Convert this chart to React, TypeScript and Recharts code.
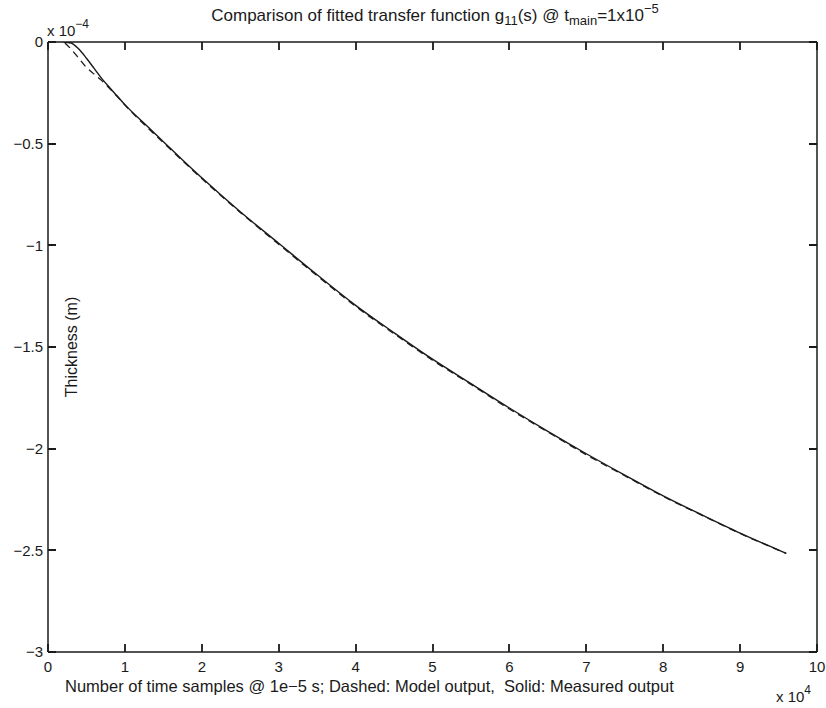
import React from "react";
import { LineChart, Line, XAxis, YAxis } from "recharts";

// x in units of 1e4 samples, thickness in units of 1e-4 m
const measuredX = [0.2, 0.3, 0.4, 0.5, 0.6, 0.7, 0.8, 0.9, 1.0, 1.25, 1.5, 1.75, 2.0, 2.5, 3.0, 3.5, 4.0, 4.5, 5.0, 5.5, 6.0, 6.5, 7.0, 7.5, 8.0, 8.5, 9.0, 9.6];
const measuredY = [0, -0.005, -0.035, -0.08, -0.13, -0.18, -0.224, -0.266, -0.308, -0.4, -0.49, -0.58, -0.668, -0.835, -0.99, -1.145, -1.295, -1.43, -1.56, -1.68, -1.8, -1.915, -2.025, -2.13, -2.232, -2.325, -2.415, -2.515];

const modelX = [0.22, 0.3, 0.4, 0.5, 0.6, 0.7, 0.8, 0.9, 1.0, 1.5, 2.0, 2.5, 3.0, 3.5, 4.0, 4.5, 5.0, 5.5, 6.0, 6.5, 7.0, 7.5, 8.0, 8.5, 9.0, 9.6];
const modelY = [-0.005, -0.035, -0.08, -0.125, -0.158, -0.19, -0.228, -0.268, -0.31, -0.495, -0.672, -0.838, -0.995, -1.15, -1.3, -1.435, -1.565, -1.684, -1.805, -1.918, -2.03, -2.133, -2.235, -2.327, -2.417, -2.515];

const xTicks = [0, 1, 2, 3, 4, 5, 6, 7, 8, 9, 10];
const yTicks = [-3, -2.5, -2, -1.5, -1, -0.5, 0];

const measured = measuredX.map((x, i) => ({ x, y: measuredY[i] }));
const model = modelX.map((x, i) => ({ x, y: modelY[i] }));

const FONT = "'Liberation Sans', Arial, Helvetica, sans-serif";
const INK = "#1a1a1a";

const W = 826;
const H = 708;
const M = { top: 42, right: 9, left: 0, bottom: 0 };
const Y_AXIS_W = 48;
const X_AXIS_H = 56;
const X_DOMAIN: [number, number] = [0, 10];
const Y_DOMAIN: [number, number] = [-3, 0];
const PLOT_TOP = M.top;
const PLOT_BOTTOM = H - M.bottom - X_AXIS_H;
const PLOT_LEFT = M.left + Y_AXIS_W;
const PLOT_RIGHT = W - M.right;
const TICK_LEN = 8;

// same linear mapping the axes use, snapped to whole pixels for the inward tick marks
const px = (v: number) => Math.round(PLOT_LEFT + ((v - X_DOMAIN[0]) / (X_DOMAIN[1] - X_DOMAIN[0])) * (PLOT_RIGHT - PLOT_LEFT));
const py = (v: number) => Math.round(PLOT_BOTTOM - ((v - Y_DOMAIN[0]) / (Y_DOMAIN[1] - Y_DOMAIN[0])) * (PLOT_BOTTOM - PLOT_TOP));

const tickPath =
  xTicks.map((t) => `M${px(t)},${PLOT_BOTTOM}V${PLOT_BOTTOM - TICK_LEN}M${px(t)},${PLOT_TOP}V${PLOT_TOP + TICK_LEN}`).join("") +
  yTicks.map((t) => `M${PLOT_LEFT},${py(t)}H${PLOT_LEFT + TICK_LEN}M${PLOT_RIGHT},${py(t)}H${PLOT_RIGHT - TICK_LEN}`).join("");

const fmtY = (v: number) => (v < 0 ? "\u2212" + Math.abs(v) : String(v));

export default function App() {
  return (
    <div style={{ position: "absolute", left: 0, top: 0, width: W, height: H, background: "#fff" }}>
      <LineChart width={W} height={H} margin={M}>
        <XAxis
          xAxisId="x"
          dataKey="x"
          type="number"
          domain={X_DOMAIN}
          allowDataOverflow
          ticks={xTicks}
          interval={0}
          height={X_AXIS_H}
          tickLine={false}
          tickSize={4}
          tickMargin={5}
          axisLine={{ stroke: INK, strokeWidth: 1.5 }}
          tick={{ fill: INK, fontSize: 15, fontFamily: FONT }}
        />
        <YAxis
          yAxisId="y"
          type="number"
          domain={Y_DOMAIN}
          allowDataOverflow
          ticks={yTicks}
          interval={0}
          width={Y_AXIS_W}
          tickLine={false}
          tickSize={3}
          tickMargin={2}
          tickFormatter={fmtY}
          axisLine={{ stroke: INK, strokeWidth: 1.5 }}
          tick={{ fill: INK, fontSize: 15, fontFamily: FONT }}
        />
        {/* top and right edges of the box */}
        <XAxis xAxisId="xtop" type="number" orientation="top" mirror domain={X_DOMAIN} allowDataOverflow tick={false} tickLine={false} axisLine={{ stroke: INK, strokeWidth: 1.5 }} />
        <YAxis yAxisId="yright" type="number" orientation="right" mirror domain={Y_DOMAIN} allowDataOverflow tick={false} tickLine={false} axisLine={{ stroke: INK, strokeWidth: 1.5 }} />
        <Line
          xAxisId="x"
          yAxisId="y"
          data={model}
          dataKey="y"
          type="monotone"
          stroke={INK}
          strokeWidth={1.3}
          strokeDasharray="7 5"
          dot={false}
          isAnimationActive={false}
        />
        <Line
          xAxisId="x"
          yAxisId="y"
          data={measured}
          dataKey="y"
          type="monotone"
          stroke={INK}
          strokeWidth={1.4}
          dot={false}
          isAnimationActive={false}
        />
      </LineChart>
      <svg width={W} height={H} style={{ position: "absolute", left: 0, top: 0, pointerEvents: "none" }} fontFamily={FONT} fill={INK}>
        {/* inward tick marks on all four edges */}
        <path d={tickPath} stroke={INK} strokeWidth={1.8} fill="none" />
        <text x={435} y={21} fontSize={17} textAnchor="middle">
          Comparison of fitted transfer function g
          <tspan fontSize={13} dy={4}>11</tspan>
          <tspan dy={-4}>(s) @ t</tspan>
          <tspan fontSize={13} dy={4}>main</tspan>
          <tspan dy={-4}>=1x10</tspan>
          <tspan fontSize={13} dy={-8}>{"\u22125"}</tspan>
        </text>
        <text x={47} y={36} fontSize={15}>
          x 10<tspan fontSize={12} dy={-8}>{"\u22124"}</tspan>
        </text>
        <text x={776} y={702} fontSize={15}>
          x 10<tspan fontSize={12} dy={-8}>4</tspan>
        </text>
        <text x={65} y={692} fontSize={16.5} style={{ whiteSpace: "pre" }}>
          {"Number of time samples @ 1e\u22125 s; Dashed: Model output,  Solid: Measured output"}
        </text>
        <text x={77} y={347} fontSize={16} textAnchor="middle" transform="rotate(-90 77 347)">
          Thickness (m)
        </text>
      </svg>
    </div>
  );
}
